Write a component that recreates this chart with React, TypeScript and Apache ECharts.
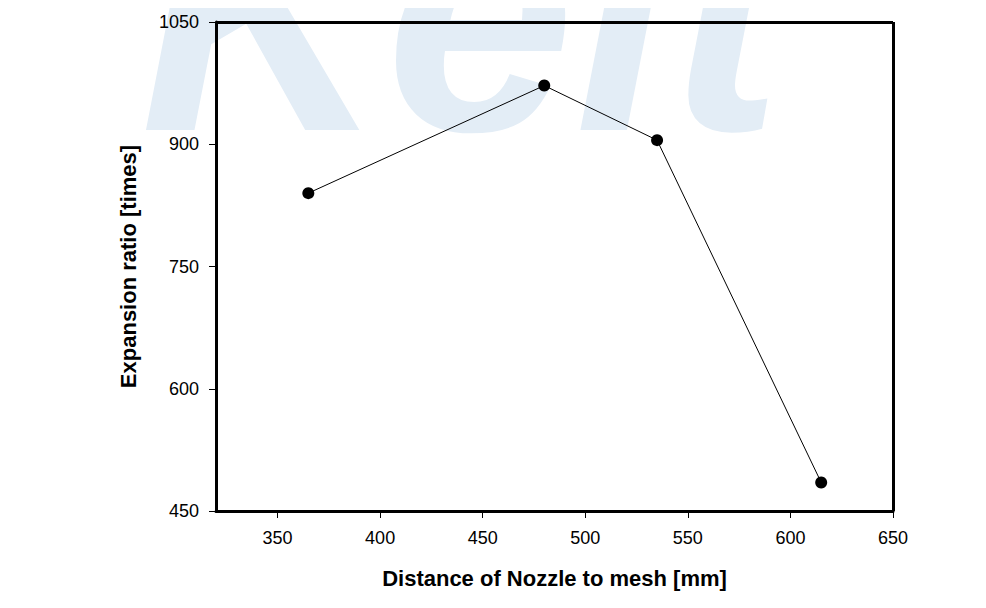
import React, { useEffect, useRef } from "react";
import * as echarts from "echarts";

const distances = [365, 480, 535, 615];
const expansionRatios = [840, 972, 905, 485];
const xTicks = [350, 400, 450, 500, 550, 600, 650];
const yTicks = [450, 600, 750, 900, 1050];

const watermarkSvg =
  "<svg xmlns='http://www.w3.org/2000/svg' width='986' height='608'>" +
  "<text x='140' y='130' font-family='Liberation Sans, Arial, sans-serif' font-style='italic' font-weight='bold' font-size='340' fill='#e3edf6'>Keit</text>" +
  "</svg>";

export default function App() {
  const ref = useRef<HTMLDivElement>(null);
  useEffect(() => {
    if (!ref.current) return;
    const chart = echarts.init(ref.current, null, { renderer: "svg" });
    const font = "'Liberation Sans', Arial, sans-serif";
    chart.setOption({
      animation: false,
      backgroundColor: "#ffffff",
      graphic: [
        {
          type: "image",
          z: -10,
          silent: true,
          x: 0,
          y: 0,
          style: {
            image: "data:image/svg+xml;charset=utf-8," + encodeURIComponent(watermarkSvg),
            width: 986,
            height: 608,
          },
        },
      ],
      grid: { left: 216, right: 93, top: 22, bottom: 97, show: false },
      xAxis: {
        type: "value",
        min: 320,
        max: 650,
        name: "Distance of Nozzle to mesh [mm]",
        nameLocation: "middle",
        nameGap: 56,
        nameTextStyle: { fontFamily: font, fontSize: 22, fontWeight: "bold", color: "#000" },
        axisLine: { show: true, onZero: false, lineStyle: { color: "#000", width: 3 } },
        axisTick: { show: true, inside: false, length: 7, customValues: xTicks, lineStyle: { color: "#000", width: 1 } },
        axisLabel: {
          customValues: xTicks,
          fontFamily: font,
          fontSize: 18,
          color: "#000",
          margin: 18,
          formatter: (v: number) => String(v),
        },
        splitLine: { show: false },
      },
      yAxis: {
        type: "value",
        min: 450,
        max: 1050,
        interval: 150,
        name: "Expansion ratio [times]",
        nameLocation: "middle",
        nameGap: 77,
        nameTextStyle: { fontFamily: font, fontSize: 22, fontWeight: "bold", color: "#000" },
        axisLine: { show: true, onZero: false, lineStyle: { color: "#000", width: 3 } },
        axisTick: { show: true, inside: false, length: 7, lineStyle: { color: "#000", width: 1 } },
        axisLabel: {
          customValues: yTicks,
          fontFamily: font,
          fontSize: 18,
          color: "#000",
          margin: 17,
          formatter: (v: number) => String(v),
        },
        splitLine: { show: false },
      },
      series: [
        {
          type: "line",
          data: distances.map((d, i) => [d, expansionRatios[i]]),
          symbol: "circle",
          symbolSize: 12,
          lineStyle: { color: "#000", width: 1 },
          itemStyle: { color: "#000" },
          z: 5,
        },
        {
          type: "line",
          data: [],
          markLine: {
            silent: true,
            symbol: "none",
            label: { show: false },
            lineStyle: { color: "#000", width: 3, type: "solid" },
            data: [
              [{ coord: [320, 1050] }, { coord: [650, 1050] }],
              [{ coord: [650, 450] }, { coord: [650, 1050] }],
            ],
          },
        },
      ],
    });
    return () => chart.dispose();
  }, []);
  return <div ref={ref} style={{ width: 986, height: 608, margin: -8 }} />;
}
